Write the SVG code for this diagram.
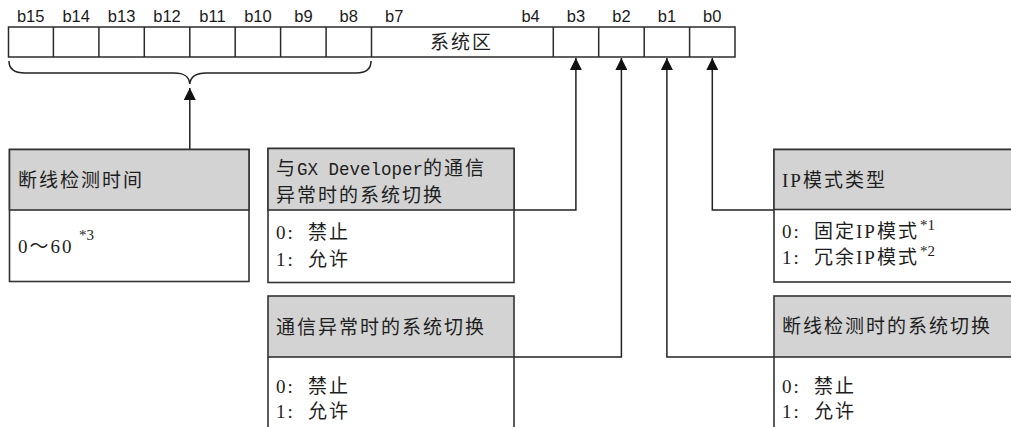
<svg xmlns="http://www.w3.org/2000/svg" width="1011" height="427" viewBox="0 0 1011 427">
<style>
.bg{fill:#ffffff}
.reg{fill:#ffffff;stroke:#2b2b2b;stroke-width:1.5}
.div{stroke:#2b2b2b;stroke-width:1.5}
.hdr{fill:#d3d3d3;stroke:#333333;stroke-width:1.6}
.body{fill:#ffffff;stroke:#333333;stroke-width:1.6}
.side{fill:none;stroke:#333333;stroke-width:1.6}
.conn{fill:none;stroke:#222222;stroke-width:1.5}
.bit{font-family:"Liberation Sans",Arial,sans-serif;font-size:16.5px;fill:#1a1a1a;text-anchor:middle}
.t{font-family:"Liberation Serif","Noto Sans CJK SC",serif;font-size:19px;letter-spacing:2px;fill:#1e1e1e}
.mono{font-family:"Liberation Mono","Noto Sans CJK SC",monospace;font-size:17.5px;letter-spacing:0}
.sup{font-family:"Liberation Serif","Noto Sans CJK SC",serif;font-size:15px;fill:#1e1e1e}
</style>
<defs>
<marker id="ah" markerUnits="userSpaceOnUse" markerWidth="12" markerHeight="12" viewBox="0 0 12 12" refX="12" refY="6" orient="auto">
<path d="M0,0 L12,6 L0,12 Z" fill="#111111"/>
</marker>
</defs>
<rect class="bg" x="0" y="0" width="1011" height="427"/>

<g id="register">
<rect class="reg" x="8.5" y="27" width="726.5" height="30"/>
<path class="div" d="M53.4,27V57M98.9,27V57M144.3,27V57M189.8,27V57M235.2,27V57M280.6,27V57M326.1,27V57M371.5,27V57M553.3,27V57M598.7,27V57M644.2,27V57M689.6,27V57"/>
<text class="bit" x="30.7" y="22">b15</text>
<text class="bit" x="76.2" y="22">b14</text>
<text class="bit" x="121.6" y="22">b13</text>
<text class="bit" x="167" y="22">b12</text>
<text class="bit" x="212.5" y="22">b11</text>
<text class="bit" x="257.9" y="22">b10</text>
<text class="bit" x="303.4" y="22">b9</text>
<text class="bit" x="348.8" y="22">b8</text>
<text class="bit" x="394.2" y="22">b7</text>
<text class="bit" x="530.6" y="22">b4</text>
<text class="bit" x="575.9" y="22">b3</text>
<text class="bit" x="621.4" y="22">b2</text>
<text class="bit" x="666.9" y="22">b1</text>
<text class="bit" x="712.3" y="22">b0</text>
<text class="t" x="430" y="49">系统区</text>
</g>

<g id="connectors">
<path class="conn" d="M9,61 C9,69 14,73 25,73 H174 C184,73 189,76 189.8,84 C190.6,76 196,73 206,73 H356 C366,73 371,69 371,61"/>
<path class="conn" d="M189.8,149 V88" marker-end="url(#ah)"/>
<path class="conn" d="M514,210 H575.9 V58" marker-end="url(#ah)"/>
<path class="conn" d="M514,357 H621.4 V58" marker-end="url(#ah)"/>
<path class="conn" d="M774,357 H666.9 V58" marker-end="url(#ah)"/>
<path class="conn" d="M774,210 H712.3 V58" marker-end="url(#ah)"/>
</g>

<g id="node-time">
<rect class="body" x="9.5" y="149.5" width="239.5" height="132"/>
<rect class="hdr" x="9.5" y="149.5" width="239.5" height="60.5"/>
<text class="t" x="18" y="187">断线检测时间</text>
<text class="t" x="18" y="253" letter-spacing="1">0～60</text>
<text class="sup" x="79" y="240">*3</text>
</g>

<g id="node-gx">
<rect class="body" x="268" y="148.5" width="246" height="134"/>
<rect class="hdr" x="268" y="148.5" width="246" height="61.5"/>
<text class="t" y="175"><tspan x="276">与</tspan><tspan class="mono" x="297">GX Developer</tspan><tspan x="423">的通信</tspan></text>
<text class="t" x="276" y="202">异常时的系统切换</text>
<text class="t" y="239"><tspan x="276">0:</tspan><tspan x="308">禁止</tspan></text>
<text class="t" y="266"><tspan x="276">1:</tspan><tspan x="308">允许</tspan></text>
</g>

<g id="node-comm">
<path class="side" d="M268,357 V432 M514,357 V432"/>
<rect class="hdr" x="268" y="296" width="246" height="61"/>
<text class="t" x="276" y="334">通信异常时的系统切换</text>
<text class="t" y="393"><tspan x="276">0:</tspan><tspan x="308">禁止</tspan></text>
<text class="t" y="418"><tspan x="276">1:</tspan><tspan x="308">允许</tspan></text>
</g>

<g id="node-ipmode">
<rect class="body" x="774" y="149.5" width="260" height="132.5"/>
<rect class="hdr" x="774" y="149.5" width="260" height="60"/>
<text class="t" x="782" y="187">IP模式类型</text>
<text class="t" y="238"><tspan x="782">0:</tspan><tspan x="814">固定IP模式</tspan></text>
<text class="sup" x="920" y="230">*1</text>
<text class="t" y="264"><tspan x="782">1:</tspan><tspan x="814">冗余IP模式</tspan></text>
<text class="sup" x="920" y="256">*2</text>
</g>

<g id="node-break">
<path class="side" d="M774,357 V432"/>
<rect class="hdr" x="774" y="296" width="260" height="61"/>
<text class="t" x="782" y="333">断线检测时的系统切换</text>
<text class="t" y="393"><tspan x="782">0:</tspan><tspan x="814">禁止</tspan></text>
<text class="t" y="418"><tspan x="782">1:</tspan><tspan x="814">允许</tspan></text>
</g>
</svg>
